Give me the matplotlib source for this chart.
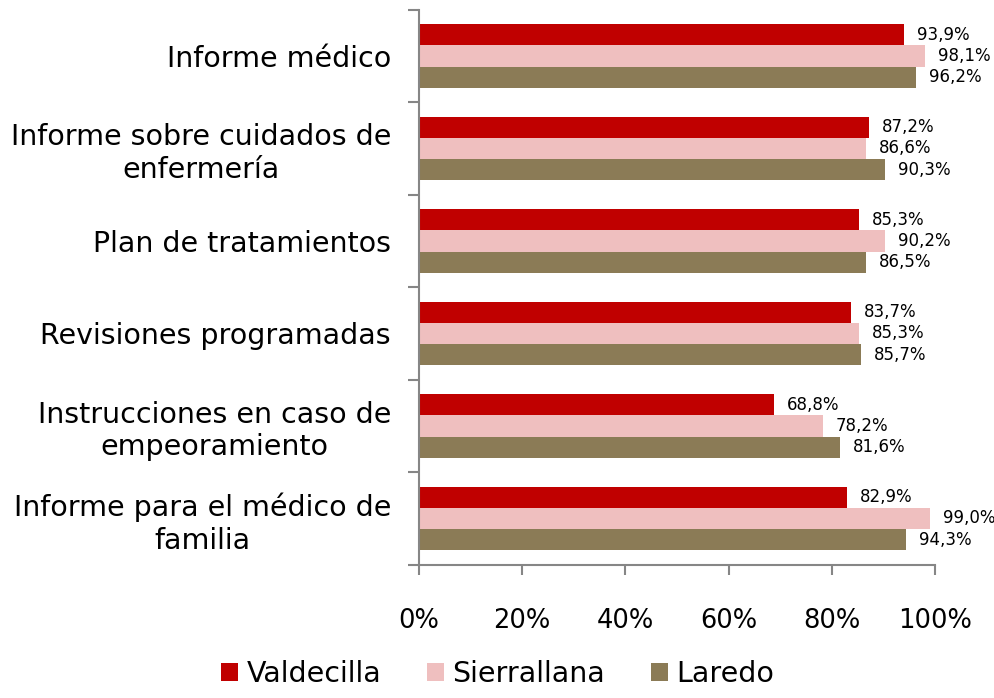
import matplotlib
matplotlib.use('Agg')
import matplotlib.pyplot as plt
import numpy as np
from matplotlib.ticker import FixedLocator, PercentFormatter

categories = [
    'Informe médico',
    'Informe sobre cuidados de\nenfermería',
    'Plan de tratamientos',
    'Revisiones programadas',
    'Instrucciones en caso de\nempeoramiento',
    'Informe para el médico de\nfamilia',
]
series_names = ['Valdecilla', 'Sierrallana', 'Laredo']
valdecilla = [93.9, 87.2, 85.3, 83.7, 68.8, 82.9]
sierrallana = [98.1, 86.6, 90.2, 85.3, 78.2, 99.0]
laredo = [96.2, 90.3, 86.5, 85.7, 81.6, 94.3]
x_ticks = [0, 20, 40, 60, 80, 100]

colors = ['#C00000', '#EFBFBF', '#8B7B56']
plt.rcParams['font.family'] = ['DejaVu Sans']

fig = plt.figure(figsize=(9.95, 6.98), dpi=100)
ax = fig.add_axes([0.421, 0.191, 0.519, 0.795])

n = len(categories)
y = np.arange(n)
h = 0.23
for i, (vals, name, c) in enumerate(zip([valdecilla, sierrallana, laredo], series_names, colors)):
    pos = y + (i - 1) * h
    ax.barh(pos, vals, height=h, color=c, label=name)
    for p, v in zip(pos, vals):
        ax.text(v + 2.5, p, f'{v:.1f}%'.replace('.', ','), ha='left', va='center',
                fontsize=12, color='black')

ax.set_xlim(0, 100)
ax.set_ylim(n - 0.5, -0.5)
ax.set_yticks(y)
ax.set_yticklabels(categories, fontsize=20.5, linespacing=1.2, multialignment='center')
ax.yaxis.set_minor_locator(FixedLocator(np.arange(-0.5, n, 1)))
ax.tick_params(axis='y', which='major', length=0, pad=20)
ax.tick_params(axis='y', which='minor', length=8, color='#868686', width=1.5, direction='out')
ax.set_xticks(x_ticks)
ax.xaxis.set_major_formatter(PercentFormatter(decimals=0))
ax.tick_params(axis='x', length=7, color='#868686', width=1.5, direction='out', pad=24, labelsize=18.5)

for s in ['top', 'right']:
    ax.spines[s].set_visible(False)
for s in ['left', 'bottom']:
    ax.spines[s].set_color('#868686')
    ax.spines[s].set_linewidth(1.5)

fig.legend(loc='lower center', bbox_to_anchor=(0.5, -0.022), ncol=3, frameon=False,
           fontsize=20.5, handlelength=0.6, handleheight=0.6, handletextpad=0.3, columnspacing=1.6)

plt.savefig('out.png', dpi=100)
plt.close()
